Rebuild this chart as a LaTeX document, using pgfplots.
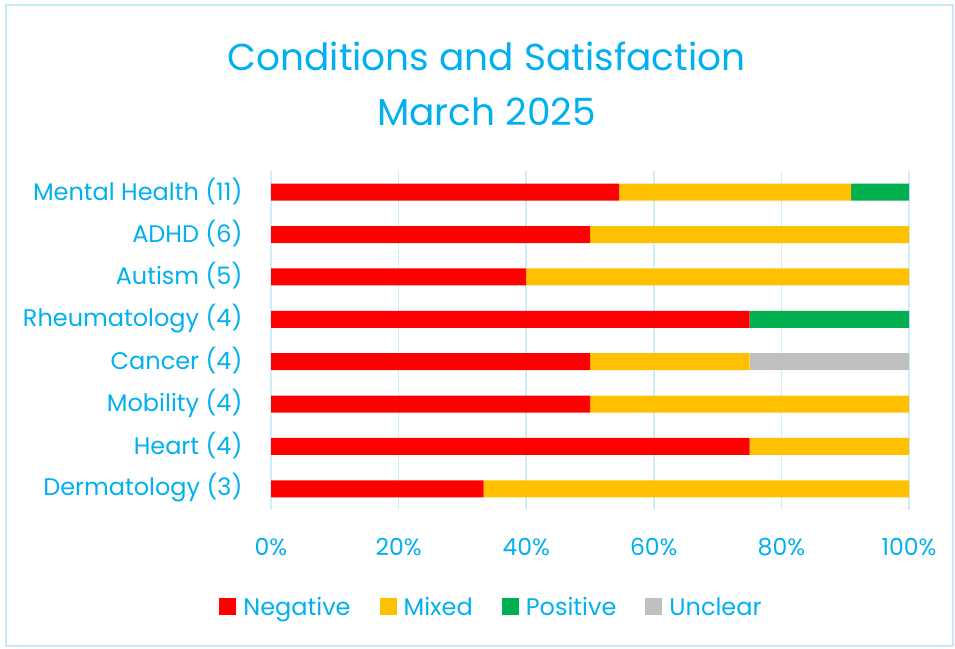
\documentclass[border=0pt]{standalone}
\usepackage{fontspec}
\setmainfont{Poppins}
\usepackage{pgfplots}
\pgfplotsset{compat=1.18}
\definecolor{txt}{HTML}{00B0F0}
\definecolor{gridc}{HTML}{CDEFFC}
\definecolor{borderc}{HTML}{C5EBFB}
\definecolor{neg}{HTML}{FF0000}
\definecolor{mix}{HTML}{FFC000}
\definecolor{pos}{HTML}{00B050}
\definecolor{unc}{HTML}{BFBFBF}
\begin{document}
\begin{tikzpicture}[x=1pt,y=1pt]
\path (0,0) rectangle (955,648);
\draw[color=borderc, line width=1.5pt] (6,2) rectangle (953,643);
\node[text=txt, align=center, font=\fontsize{37.5}{55}\selectfont] at (486.5,564) {Conditions and Satisfaction\\March 2025};
\begin{axis}[
  at={(271pt,138pt)}, anchor=south west,
  width=638pt, height=339pt, scale only axis,
  xbar stacked, bar width=17pt,
  xmin=0, xmax=100, ymin=-0.5, ymax=7.5,
  ytick={0,1,2,3,4,5,6,7},
  yticklabels={Dermatology (3), Heart (4), Mobility (4), Cancer (4), Rheumatology (4), Autism (5), ADHD (6), Mental Health (11)},
  xtick={0,20,40,60,80,100},
  xticklabels={0\%,20\%,40\%,60\%,80\%,100\%},
  axis line style={draw=none}, major tick length=0pt,
  xmajorgrids, grid style={color=gridc, line width=1.5pt},
  tick label style={text=txt, font=\fontsize{24}{28}\selectfont},
  yticklabel style={xshift=-25pt, yshift=1pt},
  xticklabel style={yshift=-25pt, font=\fontsize{23.5}{28}\selectfont},
  legend columns=4,
  legend style={draw=none, fill=none, at={(axis description cs:0.3456,-0.286)}, anchor=center,
    font=\fontsize{24}{28}\selectfont, text=txt,
    /tikz/every odd column/.style={column sep=5pt},
    /tikz/every even column/.style={column sep=27pt}},
  legend image code/.code={\fill[#1] (0pt,-8.5pt) rectangle (17pt,8.5pt);},
]
\addplot[fill=neg, draw=none] coordinates {(33.33,0) (75,1) (50,2) (50,3) (75,4) (40,5) (50,6) (54.55,7)};
\addplot[fill=mix, draw=none] coordinates {(66.67,0) (25,1) (50,2) (25,3) (0,4) (60,5) (50,6) (36.36,7)};
\addplot[fill=pos, draw=none] coordinates {(0,0) (0,1) (0,2) (0,3) (25,4) (0,5) (0,6) (9.09,7)};
\addplot[fill=unc, draw=none] coordinates {(0,0) (0,1) (0,2) (25,3) (0,4) (0,5) (0,6) (0,7)};
\legend{Negative, Mixed, Positive, Unclear}
\end{axis}
\end{tikzpicture}
\end{document}
